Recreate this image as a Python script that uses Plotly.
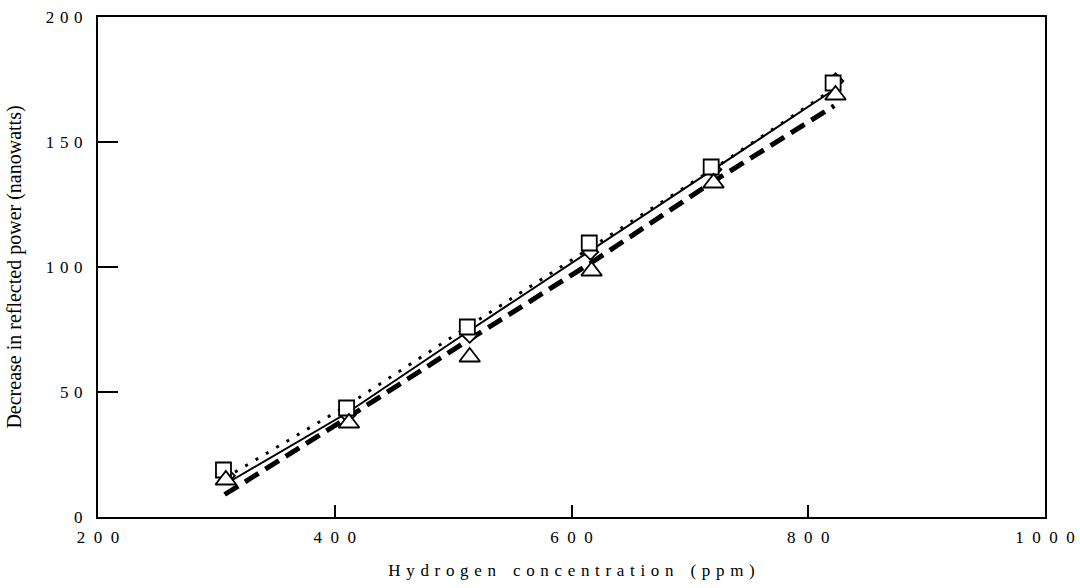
import plotly.graph_objects as go

# ---- data ----
x_sq = [306, 410, 512, 615, 718, 821]
y_sq = [18.8, 43.6, 76.0, 109.6, 140.0, 173.6]

x_di = [309, 411, 514, 616, 720, 823]
y_di = [16.5, 40.8, 72.8, 106.0, 139.0, 174.4]

x_tr = [308, 412, 514, 617, 720, 823]
y_tr = [14.8, 37.6, 64.0, 98.4, 133.6, 168.8]

x_line = [307, 410, 512, 616, 719, 822]
y_solid = [13.0, 41.5, 74.0, 106.5, 138.5, 171.0]
y_dotted = [15.5, 44.5, 76.0, 107.5, 139.0, 171.5]
y_dashed = [9.0, 39.5, 70.5, 101.5, 134.0, 164.5]

x_ticks = [200, 400, 600, 800, 1000]
y_ticks = [0, 50, 100, 150, 200]

x_ticktext = ["\u2002".join(str(v)) for v in x_ticks]
y_ticktext = ["\u2004".join(str(v)) for v in y_ticks]

x_title_raw = "Hydrogen concentration (ppm)"
y_title = "Decrease in reflected power (nanowatts)"
x_title = "\u2003".join("\u2004".join(w) for w in x_title_raw.split(" "))

FONT = "Liberation Serif, Times New Roman, serif"

fig = go.Figure()

fig.add_trace(go.Scatter(x=x_line, y=y_solid, mode="lines",
                         line=dict(color="black", width=2), showlegend=False))
fig.add_trace(go.Scatter(x=x_line, y=y_dotted, mode="lines",
                         line=dict(color="black", width=3, dash="3px,9px"), showlegend=False))
fig.add_trace(go.Scatter(x=x_line, y=y_dashed, mode="lines",
                         line=dict(color="black", width=5, dash="16px,8px"), showlegend=False))

fig.add_trace(go.Scatter(x=x_di, y=y_di, mode="markers",
                         marker=dict(symbol="diamond", size=12, color="white",
                                     line=dict(color="black", width=1.8)),
                         showlegend=False))
fig.add_trace(go.Scatter(x=x_sq, y=y_sq, mode="markers",
                         marker=dict(symbol="square", size=15, color="white",
                                     line=dict(color="black", width=1.8)),
                         showlegend=False))
fig.add_trace(go.Scatter(x=x_tr, y=y_tr, mode="markers",
                         marker=dict(symbol="triangle-up", size=18, color="white",
                                     line=dict(color="black", width=1.8)),
                         showlegend=False))

fig.update_layout(
    width=1080, height=588,
    margin=dict(l=98, r=35, t=17, b=71, autoexpand=False),
    paper_bgcolor="white", plot_bgcolor="white",
    font=dict(family=FONT, color="black", size=17),
    xaxis=dict(
        range=[200, 1000], tickmode="array", tickvals=x_ticks, ticktext=x_ticktext,
        ticks="inside", ticklen=12, tickwidth=2, tickcolor="black",
        showline=True, linecolor="black", linewidth=2, mirror=True,
        showgrid=False, zeroline=False, automargin=False,
        ticklabelstandoff=4, ticklabeloverflow="allow",
        tickfont=dict(family=FONT, size=17),
        title=dict(text=x_title, font=dict(family=FONT, size=17), standoff=18),
    ),
    yaxis=dict(
        range=[0, 200], tickmode="array", tickvals=y_ticks, ticktext=y_ticktext,
        ticks="inside", ticklen=20, tickwidth=2, tickcolor="black",
        showline=True, linecolor="black", linewidth=2, mirror=True,
        showgrid=False, zeroline=False, automargin=False,
        ticklabelstandoff=10, ticklabeloverflow="allow",
        tickfont=dict(family=FONT, size=17),
        title=dict(text=y_title, font=dict(family=FONT, size=20), standoff=19),
    ),
)

fig.write_html(
    "out.html",
    config={"displayModeBar": False},
    post_script="document.body.style.margin='0';document.body.style.overflow='hidden';",
)
